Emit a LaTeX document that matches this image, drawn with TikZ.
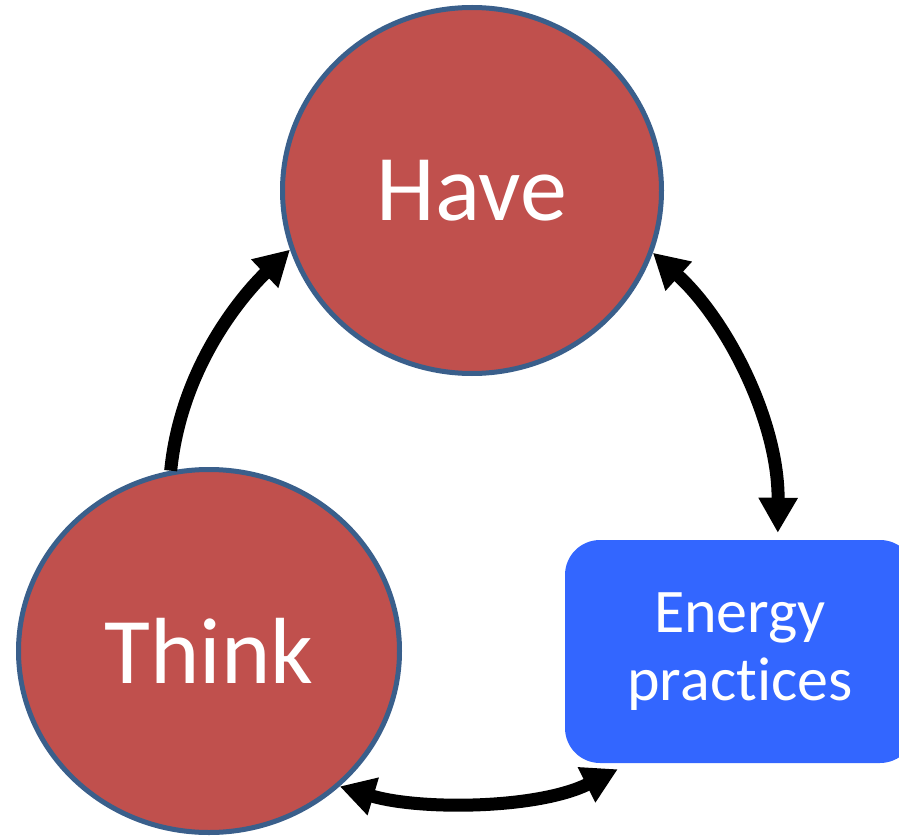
\documentclass[tikz,border=0pt]{standalone}
\usepackage{fontspec}
\setmainfont{Carlito}[RawFeature={-liga;-clig;-dlig;-calt}]
\usetikzlibrary{shapes.geometric,arrows.meta}
\definecolor{circred}{HTML}{C0504D}
\definecolor{circline}{HTML}{3A5F8B}
\definecolor{boxblue}{HTML}{3366FF}
\begin{document}
\begin{tikzpicture}[x=1pt,y=-1pt,
  circ/.style={ellipse, fill=circred, draw=circline, line width=5pt, text=white,
    font=\fontsize{94}{100}\selectfont, inner sep=0pt},
  boxnode/.style={fill=boxblue, rounded corners=35pt, text=white, align=center,
    font=\fontsize{62}{68}\selectfont, inner sep=0pt},
  conn/.style={line width=13pt, -{Triangle[length=35pt,width=37pt]}},
  conntwo/.style={line width=13pt, {Triangle[length=35pt,width=37pt]}-{Triangle[length=35pt,width=37pt]}}]
\useasboundingbox (0,0) rectangle (899,837);
\node[circ, minimum width=379pt, minimum height=366pt] (have) at (472,190.5) {Have};
\node[circ, minimum width=381pt, minimum height=363pt] (think) at (209,651) {Think};
\node[boxnode, minimum width=350pt, minimum height=223pt] (energy) at (740,651.5) {Energy\\pract\kern0pt ices};
\draw[conn] (think.102.5) .. controls +(11,-110) and +(-40,38) .. (have.198.7);
\draw[conntwo] (have.341.4) .. controls +(75,68) and +(1,-110) .. ([xshift=213pt,yshift=7pt]energy.north west);
\draw[conntwo] (think.314.4) .. controls +(80,24) and +(-80,40) .. ([xshift=53pt,yshift=-6pt]energy.south west);
\end{tikzpicture}
\end{document}
